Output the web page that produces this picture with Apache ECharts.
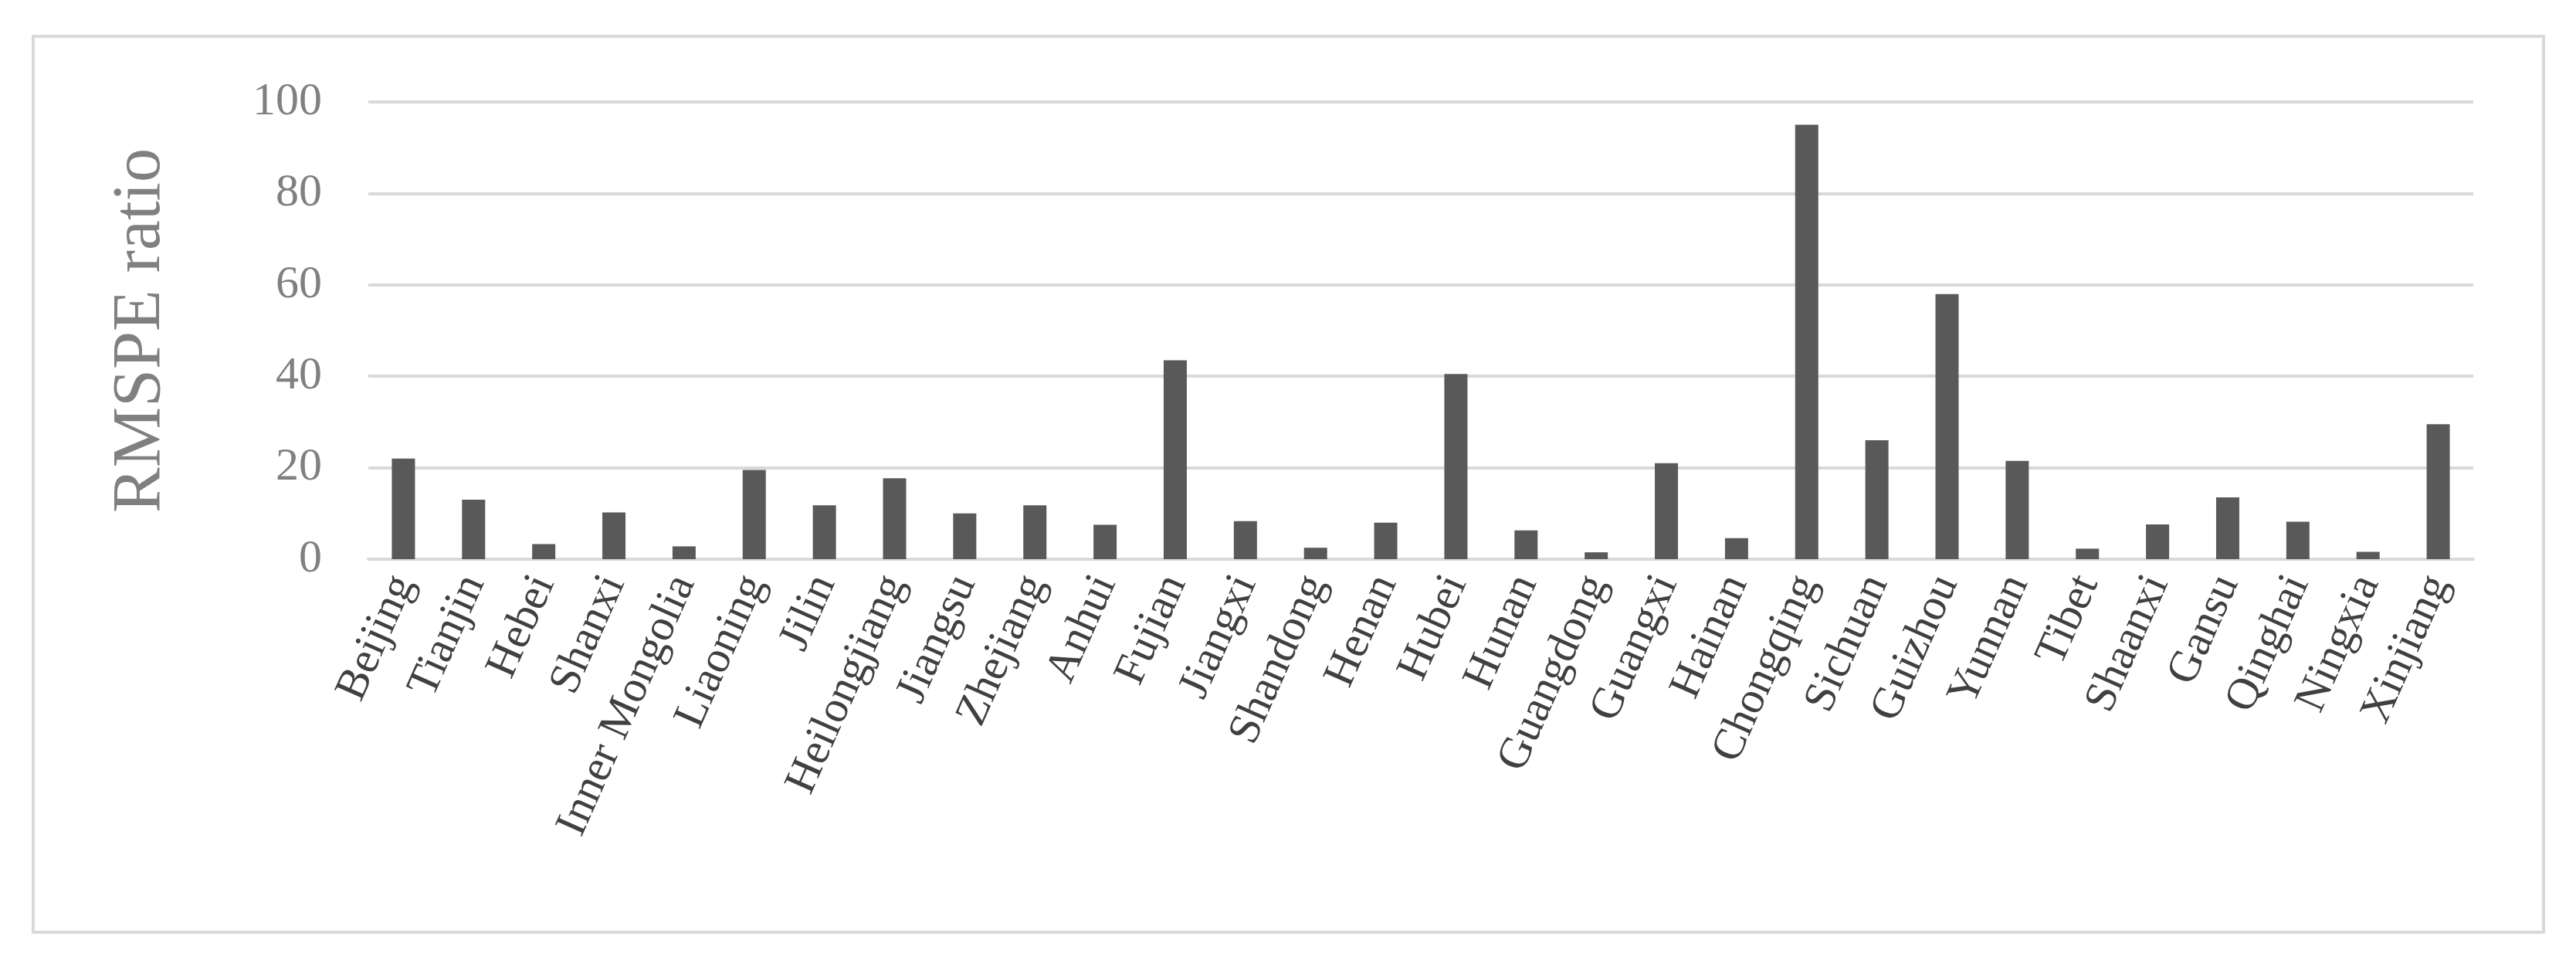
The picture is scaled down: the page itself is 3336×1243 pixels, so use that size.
<!DOCTYPE html>
<html>
<head>
<meta charset="utf-8">
<script src="https://cdn.jsdelivr.net/npm/echarts@6/dist/echarts.min.js"></script>
<style>html,body{margin:0;background:#fff}#c{width:3336px;height:1243px}</style>
</head>
<body>
<div id="c"></div>
<script>
var provinces = ['Beijing','Tianjin','Hebei','Shanxi','Inner Mongolia','Liaoning','Jilin','Heilongjiang','Jiangsu','Zhejiang','Anhui','Fujian','Jiangxi','Shandong','Henan','Hubei','Hunan','Guangdong','Guangxi','Hainan','Chongqing','Sichuan','Guizhou','Yunnan','Tibet','Shaanxi','Gansu','Qinghai','Ningxia','Xinjiang'];
var ratios = [22,13,3.3,10.2,2.8,19.5,11.8,17.7,10,11.8,7.5,43.5,8.3,2.5,8,40.5,6.3,1.5,21,4.6,95,26,58,21.5,2.3,7.6,13.5,8.2,1.6,29.5];

var chart = echarts.init(document.getElementById('c'));
chart.setOption({
  textStyle: {fontFamily: 'Liberation Serif'},
  graphic: [{
    type: 'rect',
    shape: {x: 43, y: 47, width: 3251, height: 1160},
    style: {fill: 'none', stroke: '#d9d9d9', lineWidth: 4}
  }],
  grid: {left: 477, right: 133, top: 132, bottom: 519},
  xAxis: {
    type: 'category',
    data: provinces,
    axisTick: {show: false},
    axisLine: {lineStyle: {color: '#d9d9d9', width: 4}},
    axisLabel: {rotate: 66, color: '#404040', fontSize: 58, margin: 24, interval: 0}
  },
  yAxis: {
    type: 'value',
    min: 0, max: 100, interval: 20,
    name: 'RMSPE ratio',
    nameLocation: 'middle',
    nameGap: 250,
    nameTextStyle: {color: '#808080', fontSize: 88},
    axisLabel: {color: '#808080', fontSize: 60, margin: 60},
    splitLine: {lineStyle: {color: '#d9d9d9', width: 4}},
    axisLine: {show: false},
    axisTick: {show: false}
  },
  series: [{
    type: 'bar',
    data: ratios,
    barWidth: '33%',
    itemStyle: {color: '#595959'}
  }]
});
</script>
</body>
</html>
